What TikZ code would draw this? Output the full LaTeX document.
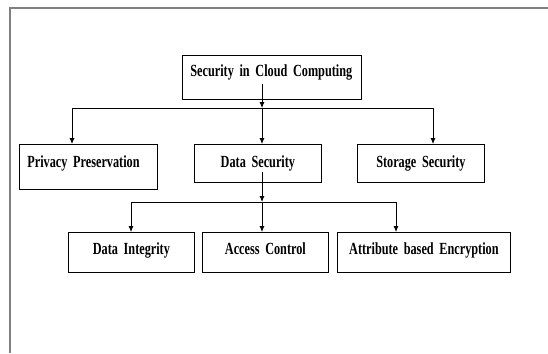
\documentclass[tikz,border=0pt]{standalone}
\usepackage{fontspec}
\newfontfamily\boxfont[FakeStretch=0.72]{Liberation Serif}
\newcommand\boxtext{\boxfont\bfseries\fontsize{17}{20}\selectfont\fontdimen2\font=2pt\relax}
\usepackage{tikz}
\usetikzlibrary{positioning,arrows.meta}

\begin{document}
\begin{tikzpicture}[x = 1pt, y = -1pt,
    every node/.style = { draw, line width = .8pt, inner ysep = 0pt, inner xsep = 8pt,
      anchor = north west, font = \boxtext },
    upper/.style = { text height = 23pt, text depth = 15pt },
    lower/.style = { text height = 22pt, text depth = 18pt, align = center },
    link/.style = { line width = .8pt },
    arr/.style = { link, -{Latex[length=6pt, width=5pt]} }]
      \useasboundingbox (0,0) rectangle (548,353);
      \draw [gray, line width = 1.4pt] (548,8) -- (10,8) -- (10,353);

      \node (root) at (182,55) [text width = 163pt, align = left,
        text height = 21pt, text depth = 23pt] { Security in Cloud Computing };

      \node (pp) at (19,144) [text width = 122pt, align = left,
        text height = 23pt, text depth = 22pt] { Privacy Preservation };
      \node (ds) at (194,144) [upper, text width = 111pt, align = center] { Data Security };
      \node (ss) at (357,144) [upper, text width = 111pt, align = center] { Storage Security };

      \node (di) at (68,232) [lower, text width = 110pt] { Data Integrity };
      \node (ac) at (202,232) [lower, text width = 110pt] { Access Control };
      \node (abe) at (337,232) [lower, text width = 157pt] { Attribute based Encryption };

      % first level
      \coordinate (top) at (262,84);
      \coordinate (bus1) at (262,108);
      \coordinate (l1) at (72,108);
      \coordinate (r1) at (433,108);
      \draw [arr] (top) -- (bus1);
      \draw [link] (l1) -- (r1);
      \draw [arr] (l1) -- (l1 |- pp.north);
      \draw [arr] (bus1) -- (bus1 |- ds.north);
      \draw [arr] (r1) -- (r1 |- ss.north);

      % second level
      \coordinate (mid) at (262,172);
      \coordinate (bus2) at (262,202);
      \coordinate (l2) at (131,202);
      \coordinate (r2) at (396,202);
      \draw [arr] (mid) -- (bus2);
      \draw [link] (l2) -- (r2);
      \draw [arr] (l2) -- (l2 |- di.north);
      \draw [arr] (bus2) -- (bus2 |- ac.north);
      \draw [arr] (r2) -- (r2 |- abe.north);
    \end{tikzpicture}
\end{document}
